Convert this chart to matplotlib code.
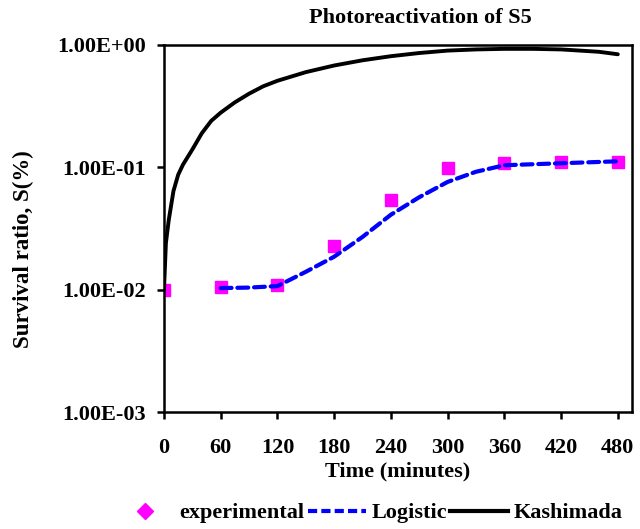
import matplotlib
matplotlib.use("Agg")
import matplotlib.pyplot as plt
from matplotlib.lines import Line2D
from matplotlib.ticker import FixedLocator, FuncFormatter

plt.rcParams["font.family"] = ["Liberation Serif", "DejaVu Serif"]
plt.rcParams["font.weight"] = "bold"

# Experimental survival ratios
t_exp = [0, 60, 120, 180, 240, 300, 360, 420, 480]
s_exp = [0.0100, 0.0106, 0.0109, 0.0229, 0.054, 0.099, 0.108, 0.110, 0.111]

# Logistic model fit
t_log = [60, 90, 120, 150, 180, 210, 240, 270, 300, 330, 360, 390, 420, 450, 480]
s_log = [0.0103, 0.0104, 0.0107, 0.0140, 0.0186, 0.027, 0.041, 0.057, 0.076,
         0.092, 0.104, 0.106, 0.108, 0.110, 0.112]

# Kashimada model fit
t_kas = [0, 2, 5, 10, 15, 20, 30, 40, 50, 60, 75, 90, 105, 120, 150, 180, 210,
         240, 270, 300, 330, 360, 390, 420, 440, 460, 480]
s_kas = [0.010, 0.024, 0.037, 0.064, 0.087, 0.105, 0.14, 0.19, 0.24, 0.28, 0.34,
         0.40, 0.46, 0.51, 0.60, 0.68, 0.75, 0.81, 0.86, 0.90, 0.92, 0.93, 0.93,
         0.92, 0.90, 0.88, 0.84]

x_ticks = [0, 60, 120, 180, 240, 300, 360, 420, 480]
y_ticks = [1e-3, 1e-2, 1e-1, 1e0]
y_tick_labels = ["1.00E-03", "1.00E-02", "1.00E-01", "1.00E+00"]

W, H = 640, 529
fig = plt.figure(figsize=(W / 100, H / 100), dpi=100)
ax = fig.add_axes([164 / W, 1 - 412 / H, 468 / W, 367 / H])

ax.plot(t_kas, s_kas, color="black", lw=2.8, solid_capstyle="round", zorder=3)
ax.plot(t_exp, s_exp, ls="none", marker="s", ms=9, color="#FF00FF",
        mec="#FF00FF", zorder=2)
ax.plot(t_log, s_log, color="#0000FF", lw=3, ls=(0, (2.6, 1.4)),
        dash_capstyle="round", zorder=4)

ax.set_yscale("log")
ax.set_xlim(0, 495)
ax.set_ylim(1e-3, 1e0)
ax.xaxis.set_major_locator(FixedLocator(x_ticks))
ax.yaxis.set_major_locator(FixedLocator(y_ticks))
ax.yaxis.set_minor_locator(FixedLocator([]))
ax.yaxis.set_major_formatter(FuncFormatter(
    lambda v, p: y_tick_labels[y_ticks.index(min(y_ticks, key=lambda y: abs(y - v)))]))

for sp in ax.spines.values():
    sp.set_linewidth(1.8)
ax.tick_params(axis="both", direction="out", length=5, width=1.8,
               labelsize=16, pad=8)
ax.tick_params(axis="x", pad=14)
for lbl in ax.get_xticklabels() + ax.get_yticklabels():
    lbl.set_fontweight("bold")

fig.text(420 / W, 1 - 18 / H, "Photoreactivation of S5", fontsize=16,
         fontweight="bold", ha="center", va="center")
ax.set_xlabel("Time (minutes)", fontsize=16, fontweight="bold", labelpad=2)
fig.text(23 / W, 1 - 249 / H, "Survival ratio, S(%)", fontsize=16.5,
         fontweight="bold", rotation=90, ha="center", va="center")

handles = [
    Line2D([], [], ls="none", marker="D", ms=8, color="#FF00FF"),
    Line2D([], [], color="#0000FF", lw=3, ls=(0, (2.2, 1.0))),
    Line2D([], [], color="black", lw=3),
]
fig.legend(handles, ["experimental", "Logistic", "Kashimada"], loc="center",
           bbox_to_anchor=(0.577, 1 - 513 / H), ncol=3, frameon=False,
           handlelength=2.6, handletextpad=0.25, columnspacing=0.15,
           borderpad=0, prop={"weight": "bold", "size": 16})

fig.savefig("out.png", dpi=100)
